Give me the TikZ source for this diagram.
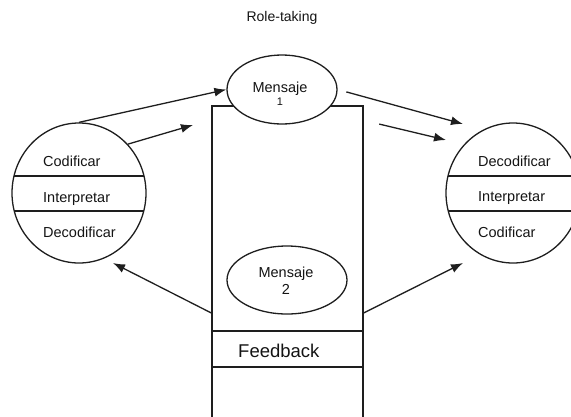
\documentclass[tikz,border=0pt]{standalone}
\usepackage{xcolor}
\usepackage{fontspec}
\setmainfont{Liberation Sans}
\usepackage{tikz}
\usetikzlibrary{calc,shapes,positioning,arrows.meta}
\definecolor{lineColor}{RGB}{30, 30, 30}
\definecolor{textColor}{RGB}{20, 20, 20}

\begin{document}
\begin{tikzpicture}[x=1pt, y=-1pt,
    roleCircle/.style={ellipse, draw=lineColor, line width=1.3pt, inner sep=0pt,
        minimum width=134pt, minimum height=140pt,
        path picture={\draw[lineColor, line width=1.3pt]
            ([yshift=17pt]path picture bounding box.west) -- ([yshift=17pt]path picture bounding box.east)
            ([yshift=-18pt]path picture bounding box.west) -- ([yshift=-18pt]path picture bounding box.east);}},
    msgBubble/.style={ellipse, draw=lineColor, fill=white, line width=1.3pt, inner sep=0pt},
    roleText/.style={anchor=base west, inner sep=0pt, text=textColor,
        font=\fontsize{14.5}{17}\selectfont},
    flow/.style={draw=lineColor, line width=1.3pt, -{Latex[length=12pt, width=9pt]}}]
            \useasboundingbox (0,0) rectangle (571,416);

            % Title text
            \node[anchor=base, text=textColor] (title) at (282,21) {
                {\fontsize{14}{17}\selectfont Role-taking\par}
            };

            % Channel between the two roles
            \node[draw=lineColor, line width=1.3pt, minimum width=151pt, minimum height=314pt, inner sep=0pt] (channel) at (287.5,263) {};
            \node[draw=lineColor, line width=1.3pt, minimum width=151pt, minimum height=36pt, inner sep=0pt] (fbBand) at (287.5,349) {};
            \node[anchor=base west, inner sep=0pt, text=textColor] (feedback) at (238,357) {
                {\fontsize{18.5}{22}\selectfont Feedback\par}
            };

            % Messages
            \node[msgBubble, minimum width=110pt, minimum height=69pt] (msg1) at (282,89.5) {};
            \node[align=center, text=textColor, inner sep=0pt, font=\fontsize{14.5}{13}\selectfont] (msg1text) at (280,94) {Mensaje\\{\fontsize{11}{13}\selectfont 1}};
            \node[msgBubble, minimum width=120pt, minimum height=68pt] (msg2) at (287,280) {};
            \node[align=center, text=textColor, inner sep=0pt, font=\fontsize{14.5}{17}\selectfont] (msg2text) at (286,281) {Mensaje\\2};

            % Sender
            \node[roleCircle] (sender) at (79,193) {};
            \node[roleText] (senderCod) at (43,166) {Codificar};
            \node[roleText] (senderInt) at (43,202) {Interpretar};
            \node[roleText] (senderDec) at (43,237) {Decodificar};

            % Receiver
            \node[roleCircle] (receiver) at (513,193) {};
            \node[roleText] (receiverDec) at (478,166) {Decodificar};
            \node[roleText] (receiverInt) at (478,201) {Interpretar};
            \node[roleText] (receiverCod) at (478,237) {Codificar};

            % Arrow ends
            \coordinate (aimA) at (193,125);
            \coordinate (aimB) at (463,124);
            \coordinate (aimC) at (446,140);
            \coordinate (aimD) at (113,263);
            \coordinate (aimE) at (463,263);

            % Arrows
            \draw[flow] (sender.north) -- (msg1.west);
            \draw[flow] (sender.45) -- (aimA);
            \draw[flow, shorten <=9pt] (msg1.east) -- (aimB);
            \draw[flow, shorten <=16pt] ([yshift=-15pt]channel.north east) -- (aimC);
            \draw[flow] ([yshift=-50pt]channel.west) -- (aimD);
            \draw[flow] ([yshift=-50pt]channel.east) -- (aimE);
        \end{tikzpicture}
\end{document}
